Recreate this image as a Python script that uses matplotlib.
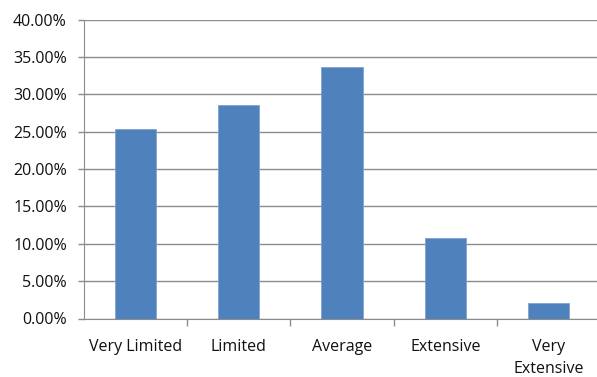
import numpy as np
import matplotlib
matplotlib.use("Agg")
import matplotlib.pyplot as plt
from matplotlib.ticker import PercentFormatter, FixedLocator

categories = ["Very Limited", "Limited", "Average", "Extensive", "Very\nExtensive"]
shares = [25.35, 28.6, 33.7, 10.8, 2.1]
yticks = [0, 5, 10, 15, 20, 25, 30, 35, 40]

plt.rcParams['font.family'] = ['Open Sans', 'DejaVu Sans']

fig = plt.figure(figsize=(5.97, 3.77), dpi=100)
x0, x1 = 83.5 / 597, 600.5 / 597
ax = fig.add_axes([x0, (377 - 318.5) / 377, x1 - x0, 299 / 377])

pos = np.arange(len(categories))
ax.bar(pos, shares, width=0.4, color="#4F81BD", edgecolor="#7FA3D0", linewidth=0.6, zorder=3)

ax.set_xlim(-0.5, len(categories) - 0.5)
ax.set_ylim(0, 40)
ax.set_yticks(yticks)
ax.yaxis.set_major_formatter(PercentFormatter(decimals=2))
ax.grid(axis='y', color="#8C8C8C", linewidth=1.0, zorder=0)

ax.set_xticks(pos)
ax.set_xticklabels(categories, fontsize=11.5, color="#111111", linespacing=1.45, va='top')
ax.xaxis.set_minor_locator(FixedLocator(np.arange(0.5, len(categories) - 0.5, 1)))
ax.tick_params(axis='x', which='major', length=0, pad=15)
ax.tick_params(axis='x', which='minor', length=5, color="#8C8C8C", width=1)
ax.tick_params(axis='y', length=4, color="#8C8C8C", width=1, pad=8, labelsize=11.5, labelcolor="#111111")

for side in ['top', 'right']:
    ax.spines[side].set_visible(False)
ax.spines['left'].set_color("#8C8C8C")
ax.spines['bottom'].set_color("#8C8C8C")

fig.savefig("out.png", dpi=100)
